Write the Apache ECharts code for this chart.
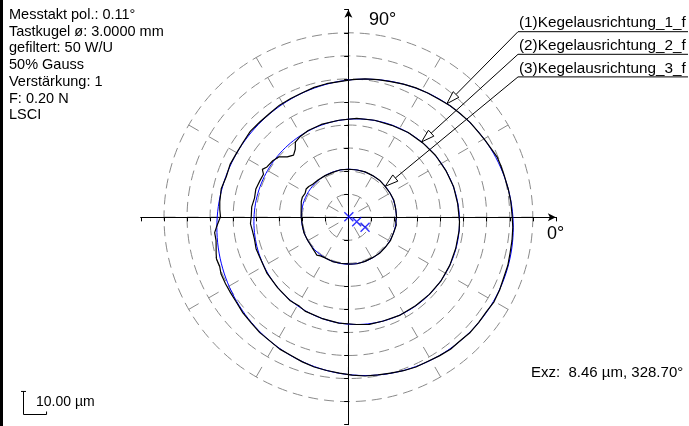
<!DOCTYPE html>
<html>
<head>
<meta charset="utf-8">
<script src="https://cdn.jsdelivr.net/npm/echarts@6/dist/echarts.min.js"></script>
<style>
html, body { margin: 0; padding: 0; background: #fff; }
#chart { width: 689px; height: 426px; }
</style>
</head>
<body>
<div id="chart"></div>
<script>
// Rundheitsdiagramm, Ring = 10 µm

var infoLines = ['Messtakt pol.: 0.11°', 'Tastkugel ø: 3.0000 mm', 'gefiltert: 50 W/U', '50% Gauss', 'Verstärkung: 1', 'F: 0.20 N', 'LSCI'];
var profileNames = ['(1)Kegelausrichtung_1_f', '(2)Kegelausrichtung_2_f', '(3)Kegelausrichtung_3_f'];

// Ausgleichskreise (LSCI): Mittelpunkt und Radius in µm
var fitCenterX = [7.23, 3.6, 0.2];
var fitCenterY = [-4.39, -1.95, 0.2];
var fitRadius = [64.3, 44.6, 20.6];

// Profil 1: Winkel (Grad) und Abweichung vom Ausgleichskreis (µm)
var ang1 = [0, 5, 10, 15, 20, 25, 28, 32, 36, 40, 45, 50, 55, 60, 65, 70, 75, 80, 85, 90, 95, 100, 105, 110,
            115, 120, 125, 130, 135, 140, 145, 150, 155, 160, 165, 170, 173, 175.8, 178, 180, 182, 185, 187, 190,
            192, 195, 198, 202, 206, 210, 215, 220, 225, 230, 235, 240, 245, 250, 255, 260, 265, 270, 275, 280,
            285, 290, 295, 300, 305, 310, 315, 320, 325, 330, 335, 340, 345, 350, 355];
var dev1 = [-0.2, -0.3, -0.1, 0.0, 0.1, 0.4, 0.6, 0.2, 0.0, -0.1, 0.1, 0.0, 0.1, -0.1, 0.0, 0.1, 0.0, -0.1, 0.0, 0.1, 0.0, -0.1, 0.2, 0.3,
            0.1, 0.2, 0.4, 0.2, 0.3, 0.6, 0.2, 0.1, 0.3, -0.2, 0.3, -0.3, -0.8, -1.4, -0.6, 0.2, 1.0, 0.6, 0.8, 1.3,
            1.6, 1.0, 1.4, 1.0, 0.6, 0.3, 0.4, 0.2, 0.3, 0.0, 0.2, -0.1, 0.1, 0.2, 0.0, -0.1, 0.1, 0.2, 0.0, -0.1,
            0.1, 0.2, -0.1, 0.1, 0.3, -0.1, 0.2, 0.0, -0.2, 0.3, 0.1, -0.3, -0.2, -0.4, -0.3];

// Profil 2
var ang2 = [0, 10, 20, 30, 40, 50, 60, 70, 80, 90, 100, 110, 118, 124, 127.6, 130.3, 133.5, 137, 140.3, 144,
            148.6, 151, 153, 157, 162, 167, 172, 177, 181, 185, 190, 195, 200, 210, 220, 230, 236, 240, 250, 260,
            270, 277, 285, 295, 305, 315, 325, 335, 345, 355];
var dev2 = [0.0, -0.1, 0.1, 0.0, 0.1, 0.0, 0.1, -0.1, 0.1, 0.2, 0.1, 0.3, 0.2, -0.3, -1.0, -3.4, -4.8, -3.4, -0.6, 0.4,
            1.0, 2.2, 0.8, 1.0, 1.4, 0.9, 1.4, 1.2, 1.5, 0.8, 0.4, 0.6, 0.2, 0.3, 0.1, 0.2, -0.3, 0.2, 0.0, 0.1,
            0.0, 0.3, 0.0, 0.1, -0.1, 0.0, 0.1, 0.0, -0.1, 0.0];

// Profil 3
var ang3 = [0, 10, 20, 30, 40, 50, 60, 70, 80, 90, 100, 110, 120, 130, 138, 143, 147, 152, 157, 162,
            167, 172, 180, 190, 200, 210, 220, 226, 230, 234, 240, 250, 260, 270, 280, 290, 300, 310, 320, 330,
            340, 350, 355];
var dev3 = [0.1, 0.0, 0.2, 0.0, -0.1, 0.1, 0.0, 0.1, 0.0, 0.0, 0.1, -0.1, 0.0, 0.2, 0.5, 1.2, 1.5, 0.9, 1.3, 1.1,
            0.6, 0.3, 0.1, -0.1, 0.1, 0.0, 0.2, 0.6, 1.1, 0.4, 0.0, 0.1, -0.1, 0.0, 0.1, 0.0, -0.1, 0.1, 0.0, 0.2,
            0.0, 0.3, -0.2];

var profileAngles = [ang1, ang2, ang3];
var profileDevs = [dev1, dev2, dev3];

// Pfeile der Beschriftung treffen den Kreis bei diesem Winkel
var arrowAngles = [56.5, 50.9, 39.9];

var exzText = 'Exz:  8.46 µm, 328.70°';
var scaleText = '10.00 µm';

function rad(a) { return a * Math.PI / 180; }

function profilePoints(i) {
    var pts = [];
    var ang = profileAngles[i], dev = profileDevs[i];
    for (var k = 0; k < ang.length; k++) {
        var r = fitRadius[i] + dev[k];
        pts.push([fitCenterX[i] + r * Math.cos(rad(ang[k])), fitCenterY[i] + r * Math.sin(rad(ang[k]))]);
    }
    pts.push(pts[0]);
    return pts;
}

function circlePoints(i) {
    var pts = [];
    for (var a = 0; a <= 360; a += 2) {
        pts.push([fitCenterX[i] + fitRadius[i] * Math.cos(rad(a)), fitCenterY[i] + fitRadius[i] * Math.sin(rad(a))]);
    }
    return pts;
}

var dom = document.getElementById('chart');
var chart = echarts.init(dom, null, { renderer: 'canvas' });

var CX = 348.4, CY = 217.2, PXU = 2.305;  // Mitte und Pixel pro µm
var HALF = 90 * PXU;
var ringDash = { color: '#8a8a8a', width: 1, type: [10, 6] };
var spokeDash = { color: '#8a8a8a', width: 1, type: [11.5, 11.55] };

function valueAxis(extra) {
    var ax = {
        type: 'value', min: -90, max: 90, interval: 10,
        axisLine: { show: true, onZero: true, onZeroAxisIndex: 0, lineStyle: { color: '#000', width: 1 } },
        axisTick: { show: true, length: 4, lineStyle: { color: '#000', width: 1 } },
        axisLabel: { show: false },
        splitLine: { show: false }
    };
    return echarts.util.merge(ax, extra, true);
}

var series = [];
for (var i = 0; i < 3; i++) {
    series.push({
        type: 'line', data: circlePoints(i), showSymbol: false, silent: true, z: 3,
        lineStyle: { color: '#0000ff', width: 1 }
    });
}
for (var i = 0; i < 3; i++) {
    series.push({
        type: 'line', data: profilePoints(i), showSymbol: false, silent: true, z: 4,
        lineStyle: { color: '#000', width: 1.2 }
    });
}
series.push({
    type: 'scatter', z: 5, silent: true,
    data: fitCenterX.map(function (x, k) { return [x, fitCenterY[k]]; }),
    symbol: 'path://M0,0L10,10M10,0L0,10', symbolSize: 9,
    itemStyle: { color: 'none', borderColor: '#0000ff', borderWidth: 1.4 }
});

var option = {
    animation: false,
    backgroundColor: '#fff',
    polar: { center: [CX, CY], radius: 80 * PXU },
    angleAxis: {
        type: 'value', min: 0, max: 360, interval: 30, startAngle: 0, clockwise: false,
        axisLine: { show: false }, axisTick: { show: false }, axisLabel: { show: false },
        splitLine: { show: true, lineStyle: spokeDash }
    },
    radiusAxis: {
        type: 'value', min: 0, max: 80, interval: 10,
        axisLine: { show: false }, axisTick: { show: false }, axisLabel: { show: false },
        splitLine: { show: true, lineStyle: ringDash }
    },
    grid: { left: CX - HALF, top: CY - HALF, width: 2 * HALF, height: 2 * HALF },
    xAxis: [
        valueAxis({ axisLine: { symbol: ['none', 'arrow'], symbolSize: [6, 8] } }),
        valueAxis({ axisTick: { inside: true } })
    ],
    yAxis: [
        valueAxis({ axisLine: { symbol: ['none', 'arrow'], symbolSize: [6, 8] } }),
        valueAxis({ axisTick: { inside: true } })
    ],
    series: series
};
chart.setOption(option);

// Beschriftungen
var font = '"Liberation Sans", Arial, sans-serif';
var graphics = [];
graphics.push({ type: 'rect', shape: { x: 0, y: 0, width: 3, height: 426 }, style: { fill: '#000' } });
infoLines.forEach(function (t, k) {
    graphics.push({ type: 'text', x: 9, y: 15 + k * 16.7, style: { text: t, font: '14.5px ' + font, fill: '#000', verticalAlign: 'middle' } });
});
graphics.push({ type: 'text', x: 369, y: 20, style: { text: '90°', font: '18px ' + font, fill: '#000', verticalAlign: 'middle' } });
graphics.push({ type: 'text', x: 547, y: 234, style: { text: '0°', font: '18px ' + font, fill: '#000', verticalAlign: 'middle' } });
graphics.push({ type: 'text', x: 531, y: 373, style: { text: exzText, font: '15px ' + font, fill: '#000', verticalAlign: 'middle' } });

// Maßstab 10 µm
var p0 = chart.convertToPixel({ xAxisIndex: 0 }, 0);
var pxPer10 = chart.convertToPixel({ xAxisIndex: 0 }, 10) - p0;
var sbX = 23.5, sbY = 414.5;
graphics.push({ type: 'polyline', shape: { points: [[sbX, sbY - pxPer10], [sbX, sbY], [sbX + pxPer10, sbY]] }, style: { stroke: '#000', lineWidth: 1, fill: null } });
graphics.push({ type: 'line', shape: { x1: sbX - 2.5, y1: sbY - pxPer10, x2: sbX + 2.5, y2: sbY - pxPer10 }, style: { stroke: '#000', lineWidth: 1 } });
graphics.push({ type: 'line', shape: { x1: sbX + pxPer10, y1: sbY - 3, x2: sbX + pxPer10, y2: sbY }, style: { stroke: '#000', lineWidth: 1 } });
graphics.push({ type: 'text', x: 36, y: 402, style: { text: scaleText, font: '14px ' + font, fill: '#000', verticalAlign: 'middle' } });

// Profilnamen mit Pfeil
var labelX = 518, labelRight = 688, labelY = [31.7, 54.3, 76.9];
for (var i = 0; i < 3; i++) {
    var a = rad(arrowAngles[i]);
    var tip = chart.convertToPixel({ gridIndex: 0 }, [fitCenterX[i] + fitRadius[i] * Math.cos(a), fitCenterY[i] + fitRadius[i] * Math.sin(a)]);
    var sx = labelX, sy = labelY[i];
    var dx = sx - tip[0], dy = sy - tip[1];
    var len = Math.sqrt(dx * dx + dy * dy);
    var ux = dx / len, uy = dy / len;
    var bx = tip[0] + ux * 13, by = tip[1] + uy * 13;
    graphics.push({ type: 'text', x: 519, y: sy - 1, style: { text: profileNames[i], font: '15.3px ' + font, fill: '#000', verticalAlign: 'bottom' } });
    graphics.push({ type: 'line', shape: { x1: sx, y1: sy, x2: labelRight, y2: sy }, style: { stroke: '#000', lineWidth: 1 } });
    graphics.push({ type: 'line', shape: { x1: sx, y1: sy, x2: bx, y2: by }, style: { stroke: '#000', lineWidth: 1 } });
    graphics.push({ type: 'polygon', shape: { points: [[tip[0], tip[1]], [bx - uy * 4, by + ux * 4], [bx + uy * 4, by - ux * 4]] }, style: { stroke: '#000', fill: '#fff', lineWidth: 1 } });
}
chart.setOption({ graphic: graphics });
</script>
</body>
</html>
